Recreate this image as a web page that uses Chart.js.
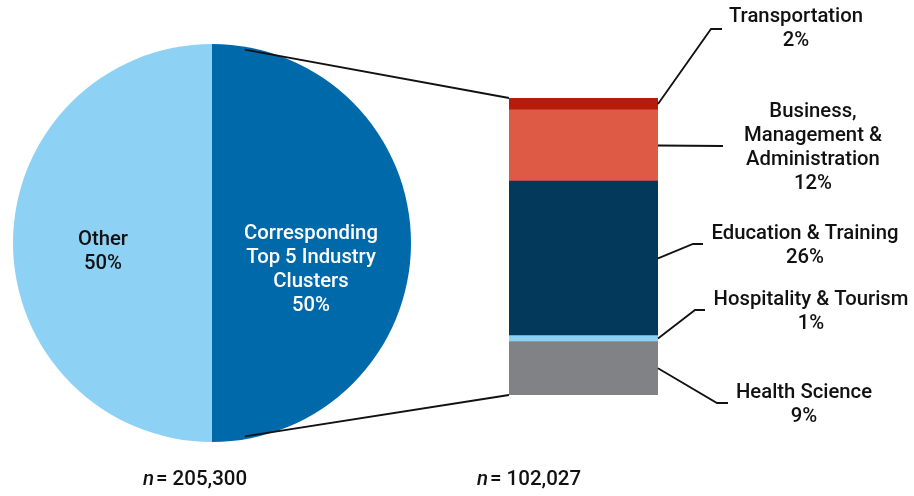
<!DOCTYPE html>
<html>
<head>
<meta charset="utf-8">
<script src="https://cdn.jsdelivr.net/npm/chart.js@4.4.0/dist/chart.umd.min.js"></script>
<style>
  html, body { margin: 0; padding: 0; background: #fff; }
  #wrap { position: relative; width: 914px; height: 496px; }
  #wrap canvas { position: absolute; left: 0; top: 0; }
</style>
</head>
<body>
<div id="wrap">
  <canvas id="pieChart" width="914" height="496"></canvas>
  <canvas id="barChart" width="914" height="496"></canvas>
</div>
<script>
// Overall split (left pie)
const pieLabels = ['Corresponding Top 5 Industry Clusters', 'Other'];
const pieValues = [50, 50];
const pieColors = ['#0069aa', '#8dd2f4'];
const pieTotal = '205,300';

// Breakdown of the top 5 clusters (right stacked bar), bottom to top
const clusterLabels = ['Health Science', 'Hospitality & Tourism', 'Education & Training', 'Business, Management & Administration', 'Transportation'];
const clusterValues = [9, 1, 26, 12, 2];
const clusterColors = ['#818286', '#8dd2f4', '#033a5c', '#df5a44', '#b71c0b'];
const clusterTotal = '102,027';

const FONT = 'Roboto, "Open Sans", sans-serif';
const LABEL_FONT = '500 20.3px ' + FONT;

// label text lines + where the leader line bends and where the text sits
const clusterCallouts = [
  { lines: ['Health Science', '9%'], elbow: [717, 403], end: [728, 403], tx: 804, ty: 393 },
  { lines: ['Hospitality & Tourism', '1%'], elbow: [695, 310], end: [705, 310], tx: 811, ty: 300 },
  { lines: ['Education & Training', '26%'], elbow: [693, 244], end: [703, 244], tx: 805, ty: 234 },
  { lines: ['Business,', 'Management &', 'Administration', '12%'], elbow: [723, 146], end: [723, 146], tx: 813, ty: 112 },
  { lines: ['Transportation', '2%'], elbow: [711, 29], end: [722, 29], tx: 796, ty: 17 }
];

const pieCtx = document.getElementById('pieChart').getContext('2d');
const pieChart = new Chart(pieCtx, {
  type: 'pie',
  data: {
    labels: pieLabels,
    datasets: [{ data: pieValues, backgroundColor: pieColors, borderWidth: 0 }]
  },
  options: {
    responsive: false,
    animation: false,
    layout: { padding: { left: 13, right: 503, top: 44, bottom: 54 } },
    plugins: { legend: { display: false }, tooltip: { enabled: false } }
  },
  plugins: [{
    id: 'pieText',
    afterDraw(chart) {
      const c = chart.ctx;
      const arc = chart.getDatasetMeta(0).data[0];
      c.save();
      c.font = LABEL_FONT;
      c.textAlign = 'center';
      c.textBaseline = 'middle';
      c.fillStyle = '#ffffff';
      ['Corresponding', 'Top 5 Industry', 'Clusters', pieValues[0] + '%'].forEach((t, i) => {
        c.fillText(t, arc.x + 99, 234 + i * 24);
      });
      c.fillStyle = '#111111';
      ['Other', pieValues[1] + '%'].forEach((t, i) => {
        c.fillText(t, arc.x - 109, 240 + i * 24);
      });
      c.restore();
    }
  }]
});

const barCtx = document.getElementById('barChart').getContext('2d');
new Chart(barCtx, {
  type: 'bar',
  data: {
    labels: [''],
    datasets: clusterLabels.map((label, i) => ({
      label: label,
      data: [clusterValues[i]],
      backgroundColor: clusterColors[i],
      borderWidth: 0,
      barPercentage: 1,
      categoryPercentage: 1
    }))
  },
  options: {
    responsive: false,
    animation: false,
    layout: { padding: { left: 509, right: 256, top: 98, bottom: 101 } },
    scales: {
      x: { stacked: true, display: false },
      y: { stacked: true, display: false, min: 0, max: 50 }
    },
    plugins: { legend: { display: false }, tooltip: { enabled: false } }
  },
  plugins: [{
    id: 'callouts',
    afterDraw(chart) {
      const c = chart.ctx;
      const n = clusterValues.length;
      const topBar = chart.getDatasetMeta(n - 1).data[0];
      const bottomBar = chart.getDatasetMeta(0).data[0];
      const left = topBar.x - topBar.width / 2;
      const right = topBar.x + topBar.width / 2;

      // lines joining the pie edge to the bar corners
      const arc = pieChart.getDatasetMeta(0).data[0];
      const off = 9.5 * Math.PI / 180;
      c.save();
      c.strokeStyle = '#111';
      c.lineWidth = 1.8;
      c.beginPath();
      c.moveTo(arc.x + arc.outerRadius * Math.sin(off), arc.y - arc.outerRadius * Math.cos(off) + 3);
      c.lineTo(left, topBar.y);
      c.moveTo(arc.x + arc.outerRadius * Math.sin(off), arc.y + arc.outerRadius * Math.cos(off) - 3);
      c.lineTo(left, bottomBar.base);
      c.stroke();

      // leader lines and labels for each segment
      c.font = LABEL_FONT;
      c.textAlign = 'center';
      c.textBaseline = 'middle';
      c.fillStyle = '#111';
      clusterCallouts.forEach((co, i) => {
        const el = chart.getDatasetMeta(i).data[0];
        const midY = (el.y + el.base) / 2;
        c.beginPath();
        c.moveTo(right, midY);
        c.lineTo(co.elbow[0], co.elbow[1]);
        c.lineTo(co.end[0], co.end[1]);
        c.stroke();
        co.lines.forEach((t, k) => c.fillText(t, co.tx, co.ty + k * 24));
      });

      // sample sizes under each part
      const drawN = (cx, total) => {
        c.font = '500 20.5px ' + FONT;
        const w1 = c.measureText('= ' + total).width;
        c.font = 'italic 500 20.5px ' + FONT;
        const w0 = c.measureText('n').width + 2;
        const x0 = cx - (w0 + w1) / 2;
        c.textAlign = 'left';
        c.fillText('n', x0, 480);
        c.font = '500 20.5px ' + FONT;
        c.fillText('= ' + total, x0 + w0, 480);
        c.textAlign = 'center';
      };
      drawN(195, pieTotal);
      drawN(529, clusterTotal);
      c.restore();
    }
  }]
});
</script>
</body>
</html>
